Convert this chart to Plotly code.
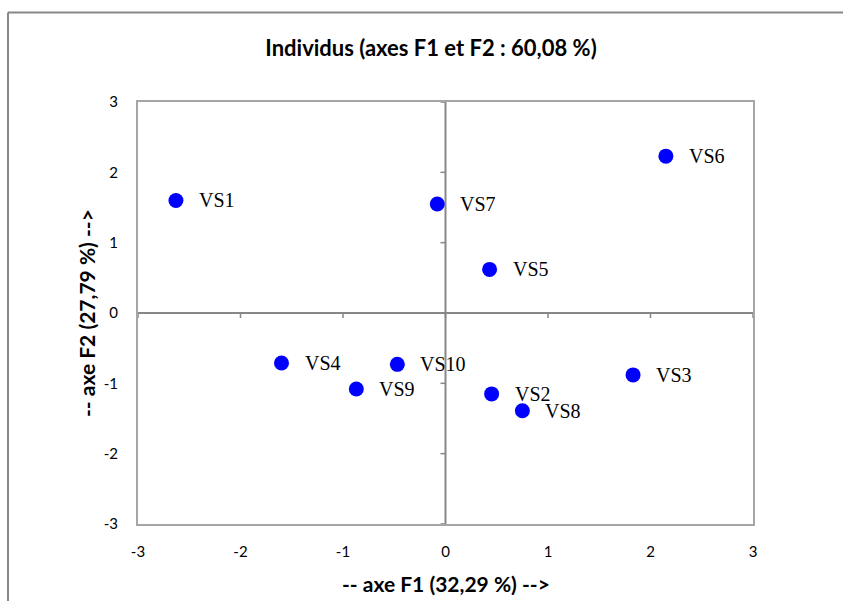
import plotly.graph_objects as go

# Individual coordinates on the first two factorial axes
names = ["VS1", "VS2", "VS3", "VS4", "VS5", "VS6", "VS7", "VS8", "VS9", "VS10"]
f1 = [-2.63, 0.45, 1.83, -1.60, 0.43, 2.15, -0.08, 0.75, -0.87, -0.47]
f2 = [1.60, -1.15, -0.88, -0.71, 0.62, 2.23, 1.55, -1.39, -1.08, -0.73]

tick_vals = [-3, -2, -1, 0, 1, 2, 3]
tick_text = ["-3", "-2", "-1", "0", "1", "2", "3"]

W, H = 843, 601
ML, MR, MT, MB = 138, 90, 102, 77
PW, PH = W - ML - MR, H - MT - MB

axis_grey = "#878787"
tick_font = dict(family="Lato, Carlito, sans-serif", size=15, color="#000000")
label_font = dict(family="Liberation Serif, Times New Roman, serif", size=20, color="#000000")
bold_font = dict(family="Lato, Carlito, sans-serif", size=21, color="#000000")

fig = go.Figure()

fig.add_trace(go.Scatter(
    x=f1, y=f2, mode="markers",
    marker=dict(size=15, color="#0000FF", line=dict(width=0)),
    hoverinfo="text", text=names, showlegend=False,
))

# Point labels, placed to the right of each marker
annotations = [
    dict(x=xv, y=yv, xref="x", yref="y", text=n, showarrow=False,
         xanchor="left", yanchor="middle", xshift=21, font=label_font)
    for n, xv, yv in zip(names, f1, f2)
]

# Axis titles
annotations.append(dict(
    x=0.5, y=0, xref="paper", yref="paper", yshift=-59, yanchor="middle",
    text="<b>-- axe F1 (32,29 %) --></b>", showarrow=False, font=bold_font))
annotations.append(dict(
    x=0, y=0.5, xref="paper", yref="paper", xshift=-52, xanchor="center",
    text="<b>-- axe F2 (27,79 %) --></b>", textangle=-90, showarrow=False,
    font=bold_font))

shapes = []
# Axes crossing at the origin
shapes.append(dict(type="line", xref="x", yref="paper", x0=0, x1=0, y0=0, y1=1,
                   line=dict(color=axis_grey, width=2), layer="below"))
shapes.append(dict(type="line", xref="paper", yref="y", x0=0, x1=1, y0=0, y1=0,
                   line=dict(color=axis_grey, width=2), layer="below"))
# Tick marks on the crossing axes
for t in tick_vals:
    shapes.append(dict(type="line", xref="x", yref="y", xsizemode="pixel",
                       xanchor=0, x0=-5, x1=0, y0=t, y1=t,
                       line=dict(color=axis_grey, width=1.5), layer="below"))
    shapes.append(dict(type="line", xref="x", yref="y", ysizemode="pixel",
                       yanchor=0, y0=0, y1=-5, x0=t, x1=t,
                       line=dict(color=axis_grey, width=1.5), layer="below"))

# Chart-area frame (left and top edges visible within the page)
fx0 = (8 - ML) / PW
fx1 = (W + 5 - ML) / PW
fy_top = (H - MB - 12.5) / PH
fy_bot = (H - MB - H - 5) / PH
shapes.append(dict(type="line", xref="paper", yref="paper",
                   x0=fx0, x1=fx1, y0=fy_top, y1=fy_top,
                   line=dict(color=axis_grey, width=2)))
shapes.append(dict(type="line", xref="paper", yref="paper",
                   x0=fx0, x1=fx0, y0=fy_top, y1=fy_bot,
                   line=dict(color=axis_grey, width=2)))

fig.update_layout(
    width=W, height=H,
    margin=dict(l=ML, r=MR, t=MT, b=MB, autoexpand=False),
    paper_bgcolor="#FFFFFF", plot_bgcolor="#FFFFFF",
    title=dict(text="<b>Individus (axes F1 et F2 : 60,08 %)</b>",
               x=431 / W, xanchor="center", y=1 - 48 / H, yanchor="middle",
               font=dict(family="Lato, Carlito, sans-serif", size=22, color="#000000")),
    xaxis=dict(range=[-3, 3], tickvals=tick_vals, ticktext=tick_text, ticks="",
               showgrid=False, zeroline=False, showline=True, linecolor="#A6A6A6",
               linewidth=2, mirror=True, tickfont=tick_font, ticklabelstandoff=13,
               fixedrange=True),
    yaxis=dict(range=[-3, 3], tickvals=tick_vals, ticktext=tick_text, ticks="",
               showgrid=False, zeroline=False, showline=True, linecolor="#A6A6A6",
               linewidth=2, mirror=True, tickfont=tick_font, ticklabelstandoff=15,
               fixedrange=True),
    annotations=annotations,
    shapes=shapes,
)

fig.write_html("out.html")
